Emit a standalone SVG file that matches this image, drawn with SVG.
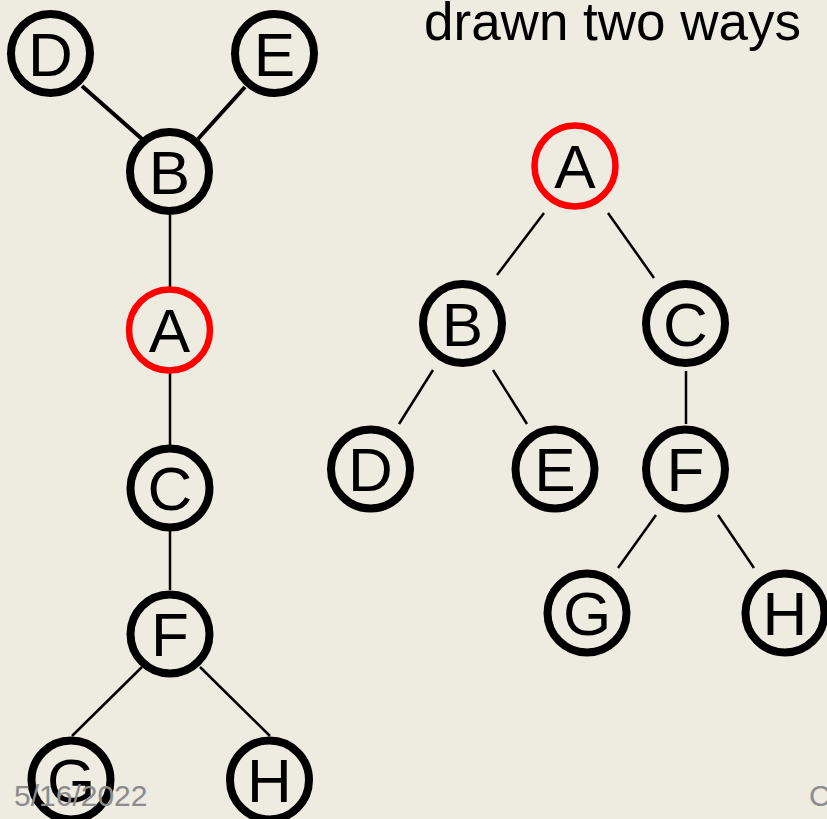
<svg xmlns="http://www.w3.org/2000/svg" width="827" height="819" viewBox="0 0 827 819">
<style>
.n{fill:none;stroke:#000;stroke-width:8}
.r{fill:none;stroke:#f00;stroke-width:6.5}
.t{font-family:"Liberation Sans",Arial,sans-serif;font-size:62px;fill:#000;text-anchor:middle}
.e{stroke:#000;stroke-width:2.5;fill:none}
.ew{stroke:#000;stroke-width:4;fill:none}
.ft{font-family:"Liberation Sans",Arial,sans-serif;font-size:30px;fill:#8c8c8c}
</style>
<rect width="827" height="819" fill="#eeebe0"/>
<text x="424" y="40" font-family="Liberation Sans, Arial, sans-serif" font-size="53" fill="#000">drawn two ways</text>
<g id="connectors">
<line class="ew" x1="82" y1="86" x2="142" y2="139"/>
<line class="ew" x1="245" y1="87" x2="198" y2="139"/>
<line class="e" x1="170" y1="215" x2="170" y2="287"/>
<line class="e" x1="170" y1="373" x2="170" y2="445"/>
<line class="e" x1="170" y1="531" x2="170" y2="590"/>
<line class="e" x1="142" y1="667" x2="72" y2="736"/>
<line class="e" x1="200" y1="667" x2="270" y2="736"/>
<line class="e" x1="544" y1="213" x2="497" y2="275"/>
<line class="e" x1="608" y1="213" x2="654" y2="278"/>
<line class="e" x1="433" y1="370" x2="399" y2="424"/>
<line class="e" x1="493" y1="370" x2="527" y2="424"/>
<line class="e" x1="686" y1="371" x2="686" y2="424"/>
<line class="e" x1="656" y1="515" x2="618" y2="568"/>
<line class="e" x1="718" y1="515" x2="754" y2="568"/>
</g>
<g id="L-D"><circle class="n" cx="50.5" cy="53.5" r="39.5"/><text class="t" x="50.5" y="75.5">D</text></g>
<g id="L-E"><circle class="n" cx="274.5" cy="53.5" r="39.5"/><text class="t" x="274.5" y="75.5">E</text></g>
<g id="L-B"><circle class="n" cx="169.5" cy="171.5" r="39.5"/><text class="t" x="169.5" y="193.5">B</text></g>
<g id="L-A"><circle class="r" cx="169.5" cy="330" r="40.5"/><text class="t" x="169.5" y="352">A</text></g>
<g id="L-C"><circle class="n" cx="170" cy="488" r="39.5"/><text class="t" x="170" y="510">C</text></g>
<g id="L-F"><circle class="n" cx="170" cy="634" r="39.5"/><text class="t" x="170" y="656">F</text></g>
<g id="L-G"><circle class="n" cx="71" cy="780" r="39.5"/><text class="t" x="71" y="802">G</text></g>
<g id="L-H"><circle class="n" cx="269.5" cy="780" r="39.5"/><text class="t" x="269.5" y="802">H</text></g>
<g id="R-A"><circle class="r" cx="575" cy="166" r="40.5"/><text class="t" x="575" y="188">A</text></g>
<g id="R-B"><circle class="n" cx="462.5" cy="323.5" r="39.5"/><text class="t" x="462.5" y="345.5">B</text></g>
<g id="R-C"><circle class="n" cx="685.5" cy="323.5" r="39.5"/><text class="t" x="685.5" y="345.5">C</text></g>
<g id="R-D"><circle class="n" cx="370.5" cy="469" r="39.5"/><text class="t" x="370.5" y="491">D</text></g>
<g id="R-E"><circle class="n" cx="555" cy="469" r="39.5"/><text class="t" x="555" y="491">E</text></g>
<g id="R-F"><circle class="n" cx="685.5" cy="469" r="39.5"/><text class="t" x="685.5" y="491">F</text></g>
<g id="R-G"><circle class="n" cx="587" cy="613" r="39.5"/><text class="t" x="587" y="635">G</text></g>
<g id="R-H"><circle class="n" cx="785" cy="613" r="39.5"/><text class="t" x="785" y="635">H</text></g>
<text class="ft" x="14" y="806">5/16/2022</text>
<text class="ft" x="809" y="806">C</text>
</svg>
